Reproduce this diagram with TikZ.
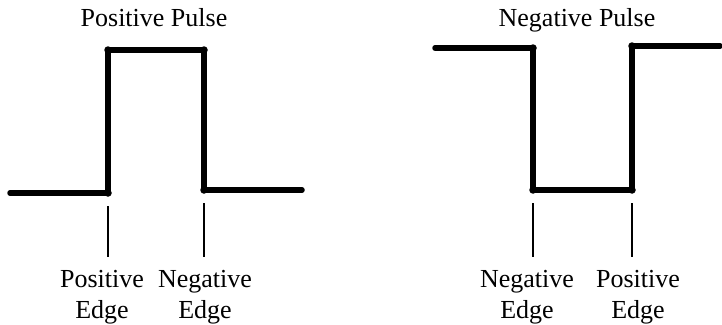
\documentclass[tikz,border=0pt]{standalone}
\usepackage{fontspec}
\setmainfont{Liberation Serif}
\usetikzlibrary{positioning}

\begin{document}
\begin{tikzpicture}[
    x=1pt, y=-1pt,
    wave/.style={line width=5.5pt, line cap=round, line join=round, black},
    joint/.style={circle, fill=black, inner sep=0pt, minimum size=7.5pt},
    tick/.style={line width=1.5pt, black, shorten <=13pt, shorten >=13pt},
    pulsetitle/.style={anchor=base, inner sep=0pt, font=\fontsize{26}{31}\selectfont},
    edgelabel/.style={anchor=north, inner sep=0pt, align=center, font=\fontsize{26}{31}\selectfont}
]
\useasboundingbox (0,0) rectangle (722,324);

\coordinate (p0) at (10,193);
\coordinate (p1) at (108,193);
\coordinate (p2) at (108,50);
\coordinate (p3) at (204,50);
\coordinate (p4) at (204,190);
\coordinate (p5) at (302,190);

\coordinate (q0) at (435,48);
\coordinate (q1) at (533,48);
\coordinate (q2) at (533,190);
\coordinate (q3) at (632,190);
\coordinate (q4) at (632,46);
\coordinate (q5) at (720,46);

\draw[wave] (p0) -- (p1) -- (p2) -- (p3) -- (p4) -- (p5);
\draw[wave] (q0) -- (q1) -- (q2) -- (q3) -- (q4) -- (q5);
\foreach \c in {p1,p2,p3,p4,q1,q2,q3,q4}
    \node[joint] (j-\c) at (\c) {};

\node[pulsetitle] (tpos) at (154,27) {Positive Pulse};
\node[pulsetitle] (tneg) at (577,27) {Negative Pulse};

\node[edgelabel] (pe1) at (102,270) {Positive\\Edge};
\node[edgelabel] (ne1) at (205,270) {Negative\\Edge};
\node[edgelabel] (ne2) at (527,270) {Negative\\Edge};
\node[edgelabel] (pe2) at (638,270) {Positive\\Edge};

\draw[tick] (p1) -- (p1 |- pe1.north);
\draw[tick] (p4) -- (p4 |- ne1.north);
\draw[tick] (q2) -- (q2 |- ne2.north);
\draw[tick] (q3) -- (q3 |- pe2.north);
\end{tikzpicture}
\end{document}
